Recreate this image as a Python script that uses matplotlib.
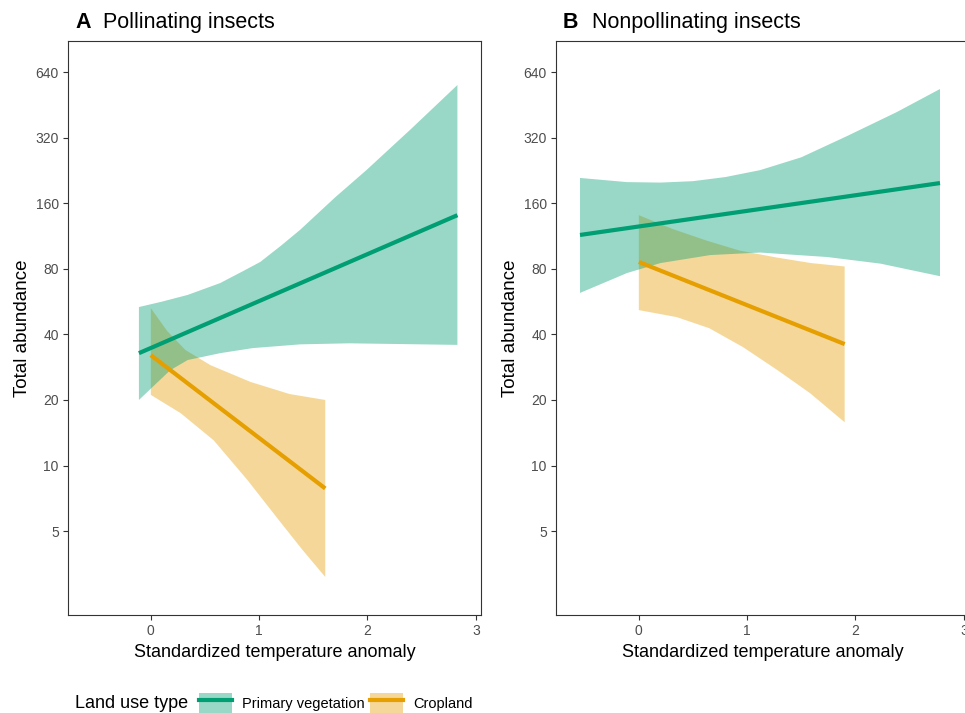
import matplotlib
matplotlib.use("Agg")
import matplotlib.pyplot as plt
from matplotlib.patches import Patch
from matplotlib.lines import Line2D

plt.rcParams['font.family'] = ['Liberation Sans', 'DejaVu Sans']

GREEN = '#009E73'
ORANGE = '#E69F00'

yticks = [5, 10, 20, 40, 80, 160, 320, 640]
xticks = [0, 1, 2, 3]

# A - pollinating insects
a_prim_line_x = [-0.11, 2.83]
a_prim_line_y = [32.8, 141]
a_prim_up_x = [-0.11, 0.10, 0.34, 0.64, 0.85, 1.01, 1.20, 1.38, 1.70, 1.99, 2.40, 2.83]
a_prim_up_y = [53.4, 56.5, 60.7, 68.8, 78, 86, 102, 121, 170, 227, 350, 558]
a_prim_lo_x = [-0.11, 0.05, 0.18, 0.34, 0.64, 0.94, 1.38, 1.83, 2.83]
a_prim_lo_y = [20.0, 23.8, 27.4, 30.5, 32.8, 34.6, 36.0, 36.4, 35.8]

a_crop_line_x = [0, 1.61]
a_crop_line_y = [32.1, 7.85]
a_crop_up_x = [0, 0.15, 0.32, 0.55, 0.92, 1.28, 1.61]
a_crop_up_y = [52.8, 41.5, 33.9, 28.9, 24.2, 21.3, 20.0]
a_crop_lo_x = [0, 0.275, 0.58, 0.89, 1.19, 1.40, 1.61]
a_crop_lo_y = [21.1, 17.4, 13.06, 8.6, 5.55, 4.1, 3.08]

# B - nonpollinating insects
b_prim_line_x = [-0.543, 2.78]
b_prim_line_y = [114.4, 198.0]
b_prim_up_x = [-0.543, -0.109, 0.20, 0.50, 0.80, 1.12, 1.50, 1.92, 2.38, 2.78]
b_prim_up_y = [209, 200, 199, 202, 211, 227, 260, 325, 419, 535]
b_prim_lo_x = [-0.543, -0.109, 0.20, 0.66, 1.12, 1.74, 2.23, 2.78]
b_prim_lo_y = [62.0, 76.5, 85.0, 92.5, 95.0, 90.6, 84.5, 74.0]

b_crop_line_x = [0, 1.90]
b_crop_line_y = [86.0, 36.1]
b_crop_up_x = [0, 0.31, 0.62, 0.93, 1.28, 1.59, 1.90]
b_crop_up_y = [141, 122, 108, 97, 90, 85, 82]
b_crop_lo_x = [0, 0.35, 0.65, 0.96, 1.28, 1.58, 1.90]
b_crop_lo_y = [51.7, 48.0, 42.7, 35.0, 27.4, 21.5, 15.8]


def ribbon(ax, ux, uy, lx, ly, col):
    xs = list(ux) + list(lx)[::-1]
    ys = list(uy) + list(ly)[::-1]
    ax.fill(xs, ys, color=col, alpha=0.4, lw=0)


def panel(ax, prim, crop):
    ribbon(ax, crop[2], crop[3], crop[4], crop[5], ORANGE)
    ax.plot(crop[0], crop[1], color=ORANGE, lw=3, solid_capstyle='butt')
    ribbon(ax, prim[2], prim[3], prim[4], prim[5], GREEN)
    ax.plot(prim[0], prim[1], color=GREEN, lw=3, solid_capstyle='butt')

    ax.set_yscale('log', base=2)
    ax.set_ylim(2.06, 888)
    ax.set_xlim(-0.767, 3.05)
    ax.set_yticks(yticks)
    ax.set_yticklabels([str(v) for v in yticks])
    ax.minorticks_off()
    ax.set_xticks(xticks)
    ax.set_xticklabels([str(v) for v in xticks])
    ax.tick_params(labelsize=10, colors='#333333', labelcolor='#4D4D4D',
                   length=3.5, width=0.8, pad=3)
    for s in ax.spines.values():
        s.set_color('#333333')
        s.set_linewidth(0.8)
    ax.set_xlabel('Standardized temperature anomaly', fontsize=13, labelpad=4)
    ax.set_ylabel('Total abundance', fontsize=13.5, labelpad=3)


fig = plt.figure(figsize=(9.65, 7.13), dpi=100)
ax1 = fig.add_axes([0.0702, 0.1374, 0.4285, 0.805])
ax2 = fig.add_axes([0.5759, 0.1374, 0.4285, 0.805])

panel(ax1,
      (a_prim_line_x, a_prim_line_y, a_prim_up_x, a_prim_up_y, a_prim_lo_x, a_prim_lo_y),
      (a_crop_line_x, a_crop_line_y, a_crop_up_x, a_crop_up_y, a_crop_lo_x, a_crop_lo_y))
panel(ax2,
      (b_prim_line_x, b_prim_line_y, b_prim_up_x, b_prim_up_y, b_prim_lo_x, b_prim_lo_y),
      (b_crop_line_x, b_crop_line_y, b_crop_up_x, b_crop_up_y, b_crop_lo_x, b_crop_lo_y))

fig.text(0.0777, 0.969, 'A', fontsize=15.5, fontweight='bold', va='center')
fig.text(0.1067, 0.969, 'Pollinating insects', fontsize=15.5, va='center')
fig.text(0.5834, 0.969, 'B', fontsize=15.5, fontweight='bold', va='center')
fig.text(0.6131, 0.969, 'Nonpollinating insects', fontsize=15.5, va='center')

# legend
fig.text(0.0777, 0.014, 'Land use type', fontsize=13, va='center')
handles = [
    (Patch(facecolor=GREEN, alpha=0.4, lw=0), Line2D([], [], color=GREEN, lw=3)),
    (Patch(facecolor=ORANGE, alpha=0.4, lw=0), Line2D([], [], color=ORANGE, lw=3)),
]
fig.legend(handles, ['Primary vegetation', 'Cropland'], ncol=2, frameon=False,
           loc='center left', bbox_to_anchor=(0.206, 0.014), fontsize=10.5,
           handlelength=2.26, handleheight=1.8, handletextpad=0.7,
           columnspacing=0.35, borderpad=0, borderaxespad=0)

fig.savefig('out.png', dpi=100)
